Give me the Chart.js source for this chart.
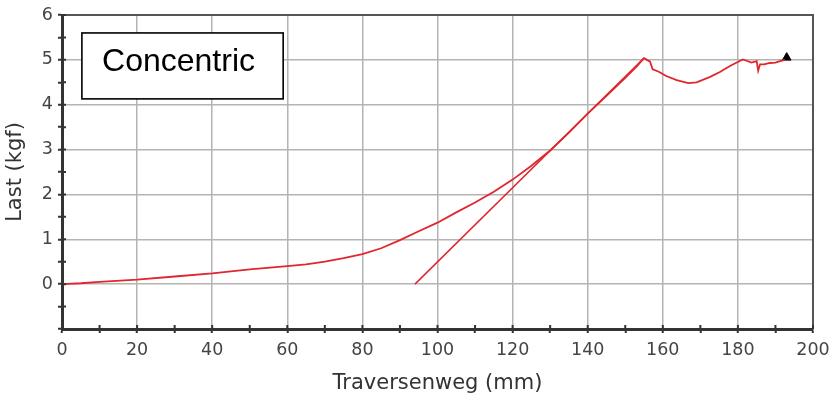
<!DOCTYPE html>
<html>
<head>
<meta charset="utf-8">
<title>Concentric</title>
<script src="https://cdn.jsdelivr.net/npm/chart.js@4.4.1/dist/chart.umd.min.js"></script>
<style>
  html, body { margin: 0; padding: 0; background: #fff; }
  #wrap { width: 832px; height: 399px; position: relative; }
</style>
</head>
<body>
<div id="wrap"><canvas id="chart"></canvas></div>
<script>
// ---------------------------------------------------------------
// Messkurve: Traversenweg (mm) -> Last (kgf)
// ---------------------------------------------------------------
const wegMm = [0, 5, 10, 20, 30, 40, 50, 60, 65, 70, 75, 80, 85, 90, 95,
  100, 105, 110, 115, 120, 125, 130, 135, 140, 145, 150, 153, 155,
  155.8, 156.6, 157.3, 158.8, 160.9, 163.7, 166.8, 169, 172.6, 175.2,
  178, 181.3, 182.3, 183.6, 185, 185.4, 185.9, 187, 188.5, 190, 191.2, 192.5];
const lastKgf = [0, 0.02, 0.05, 0.1, 0.17, 0.24, 0.33, 0.4, 0.44, 0.5, 0.58, 0.67, 0.8, 0.98, 1.18,
  1.37, 1.6, 1.82, 2.06, 2.33, 2.64, 2.98, 3.38, 3.8, 4.2, 4.6, 4.85, 5.04,
  5.0, 4.96, 4.79, 4.74, 4.64, 4.55, 4.48, 4.5, 4.62, 4.73,
  4.87, 5.01, 4.98, 4.94, 4.97, 4.76, 4.9, 4.9, 4.93, 4.94, 4.97, 5.0];

// Tangente an den linearen Anstieg
const tangenteWeg = [94, 155];
const tangenteLast = [0, 5.04];

// Endpunkt der Messung
const endWeg = [193];
const endLast = [5.05];

// Achsbeschriftungen
const xTickLabels = [0, 20, 40, 60, 80, 100, 120, 140, 160, 180, 200];
const yTickLabels = [0, 1, 2, 3, 4, 5, 6];

const toPoints = (xs, ys) => xs.map((x, i) => ({ x: x, y: ys[i] }));

const RED = "#e0262e";
const AXIS = "#333333";
const GRID = "#b4b4b4";
const FONT = "'DejaVu Sans', Verdana, sans-serif";

// Haupt- und Zwischenstriche (halbe Teilung)
function withMinor(major) {
  const out = [];
  major.forEach((v, i) => {
    out.push(v);
    if (i < major.length - 1) out.push((v + major[i + 1]) / 2);
  });
  return out;
}
const xTickValues = withMinor(xTickLabels);
const yTickValues = withMinor([-1].concat(yTickLabels));

const isMajor = (list, v) => list.some(m => Math.abs(m - v) < 1e-9);

// Rahmen oben/rechts, Striche nach innen, Textbox
const framePlugin = {
  id: "frame",
  afterDatasetsDraw(chart) {
    const { ctx, chartArea: a, scales } = chart;
    ctx.save();
    ctx.strokeStyle = "#555";
    ctx.lineWidth = 2;
    ctx.beginPath();
    ctx.moveTo(a.left, a.top);
    ctx.lineTo(a.right, a.top);
    ctx.lineTo(a.right, a.bottom);
    ctx.stroke();

    ctx.strokeStyle = AXIS;
    ctx.lineWidth = 2;
    ctx.beginPath();
    xTickValues.forEach(v => {
      const px = scales.x.getPixelForValue(v);
      ctx.moveTo(px, a.bottom);
      ctx.lineTo(px, a.bottom - 4);
    });
    yTickValues.forEach(v => {
      const py = scales.y.getPixelForValue(v);
      ctx.moveTo(a.left, py);
      ctx.lineTo(a.left + 4, py);
    });
    ctx.stroke();
    ctx.restore();
  },
  afterDraw(chart) {
    const { ctx, scales } = chart;
    const x0 = scales.x.getPixelForValue(5.3);
    const x1 = scales.x.getPixelForValue(58.9);
    const y0 = scales.y.getPixelForValue(5.6);
    const y1 = scales.y.getPixelForValue(4.13);
    ctx.save();
    ctx.fillStyle = "#fff";
    ctx.fillRect(x0, y0, x1 - x0, y1 - y0);
    ctx.strokeStyle = "#000";
    ctx.lineWidth = 1.6;
    ctx.strokeRect(x0, y0, x1 - x0, y1 - y0);
    ctx.fillStyle = "#000";
    ctx.font = "32px 'Liberation Sans', Arial, sans-serif";
    ctx.textAlign = "center";
    ctx.textBaseline = "middle";
    ctx.fillText("Concentric", (x0 + x1) / 2 - 4, (y0 + y1) / 2 - 4);
    ctx.restore();
  }
};

new Chart(document.getElementById("chart"), {
  type: "line",
  data: {
    datasets: [
      {
        data: toPoints(wegMm, lastKgf),
        borderColor: RED,
        borderWidth: 1.8,
        pointRadius: 0,
        tension: 0,
        fill: false
      },
      {
        data: toPoints(tangenteWeg, tangenteLast),
        borderColor: RED,
        borderWidth: 1.5,
        pointRadius: 0,
        tension: 0,
        fill: false
      },
      {
        data: toPoints(endWeg, endLast),
        showLine: false,
        pointStyle: "triangle",
        pointRadius: 5,
        pointBackgroundColor: "#000",
        pointBorderColor: "#000",
        pointBorderWidth: 1
      }
    ]
  },
  options: {
    responsive: true,
    maintainAspectRatio: false,
    animation: false,
    layout: { padding: { top: 15, right: 19, left: 0, bottom: 0 } },
    plugins: {
      legend: { display: false },
      tooltip: { enabled: false }
    },
    scales: {
      x: {
        type: "linear",
        min: 0,
        max: 200,
        afterBuildTicks: s => { s.ticks = xTickValues.map(v => ({ value: v })); },
        afterFit: s => { s.height = 70; s.paddingLeft = 0; s.paddingRight = 0; },
        ticks: {
          autoSkip: false,
          maxRotation: 0,
          padding: 7,
          color: "#444",
          font: { family: FONT, size: 17.5 },
          callback: v => (isMajor(xTickLabels, v) ? String(v) : "")
        },
        grid: {
          color: c => (c.tick && isMajor(xTickLabels, c.tick.value) ? GRID : "rgba(0,0,0,0)"),
          lineWidth: 1.5,
          tickColor: AXIS,
          tickLength: 4,
          tickWidth: 2
        },
        border: { display: true, color: AXIS, width: 3 },
        title: {
          display: true,
          text: "Traversenweg (mm)",
          color: "#333",
          font: { family: FONT, size: 21 },
          padding: { top: 0, bottom: 3 }
        }
      },
      y: {
        type: "linear",
        min: -1,
        max: 6,
        afterBuildTicks: s => { s.ticks = yTickValues.map(v => ({ value: v })); },
        afterFit: s => { s.width = 62; s.paddingTop = 0; s.paddingBottom = 0; },
        ticks: {
          autoSkip: false,
          padding: 5,
          color: "#444",
          font: { family: FONT, size: 17.5 },
          callback: v => (isMajor(yTickLabels, v) ? String(v) : "")
        },
        grid: {
          color: c => (c.tick && isMajor(yTickLabels, c.tick.value) ? GRID : "rgba(0,0,0,0)"),
          lineWidth: 1.5,
          tickColor: AXIS,
          tickLength: 4,
          tickWidth: 2
        },
        border: { display: true, color: AXIS, width: 3 },
        title: {
          display: true,
          text: "Last (kgf)",
          color: "#333",
          font: { family: FONT, size: 21 },
          padding: { top: 3, bottom: 0 }
        }
      }
    }
  },
  plugins: [framePlugin]
});
</script>
</body>
</html>
